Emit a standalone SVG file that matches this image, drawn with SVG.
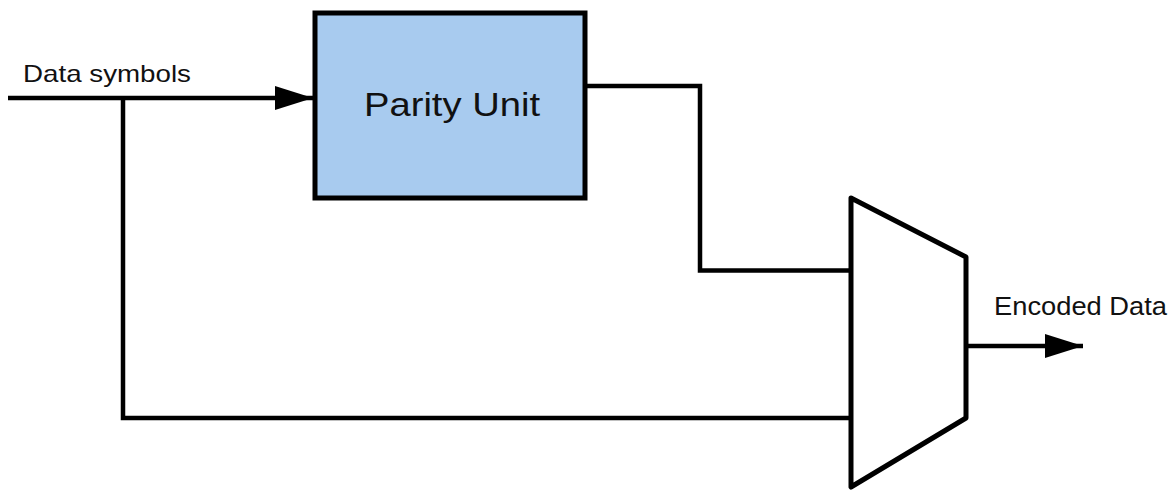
<svg xmlns="http://www.w3.org/2000/svg" width="1173" height="490" viewBox="0 0 1173 490">
  <style>
    .wire { fill: none; stroke: #000; stroke-width: 4.5; stroke-linejoin: miter; }
    .label { font-family: "Liberation Sans", Arial, sans-serif; fill: #111; }
    .block { fill: #a8cbef; stroke: #000; stroke-width: 5; }
    .mux { fill: #fff; stroke: #000; stroke-width: 5; stroke-linejoin: round; }
  </style>
  <defs>
    <marker id="arrow" markerUnits="userSpaceOnUse" markerWidth="40" markerHeight="26" refX="38" refY="12" orient="auto">
      <path d="M0,0 L38,12 L0,24 Z" fill="#000"/>
    </marker>
  </defs>
  <rect width="1173" height="490" fill="#fff"/>

  <g id="connectors">
    <!-- data input into the parity unit -->
    <path class="wire" d="M8,98 L313,98" marker-end="url(#arrow)"/>
    <!-- bypass branch to the multiplexer -->
    <path class="wire" d="M123,98 L123,418 L851,418"/>
    <!-- parity output to the multiplexer -->
    <path class="wire" d="M585,86 L700,86 L700,270.5 L851,270.5"/>
    <!-- encoded output -->
    <path class="wire" d="M966,346 L1083,346" marker-end="url(#arrow)"/>
  </g>

  <g id="label-data-symbols">
    <text class="label" x="23" y="82" font-size="24" textLength="168" lengthAdjust="spacingAndGlyphs">Data symbols</text>
  </g>

  <g id="parity-unit">
    <rect class="block" x="315" y="13" width="270" height="185"/>
    <text class="label" x="364" y="116" font-size="33" textLength="176" lengthAdjust="spacingAndGlyphs">Parity Unit</text>
  </g>

  <g id="mux">
    <path class="mux" d="M851,198 L966,257 L966,418 L851,487 Z"/>
  </g>

  <g id="label-encoded-data">
    <text class="label" x="994" y="315" font-size="25" textLength="173" lengthAdjust="spacingAndGlyphs">Encoded Data</text>
  </g>
</svg>
